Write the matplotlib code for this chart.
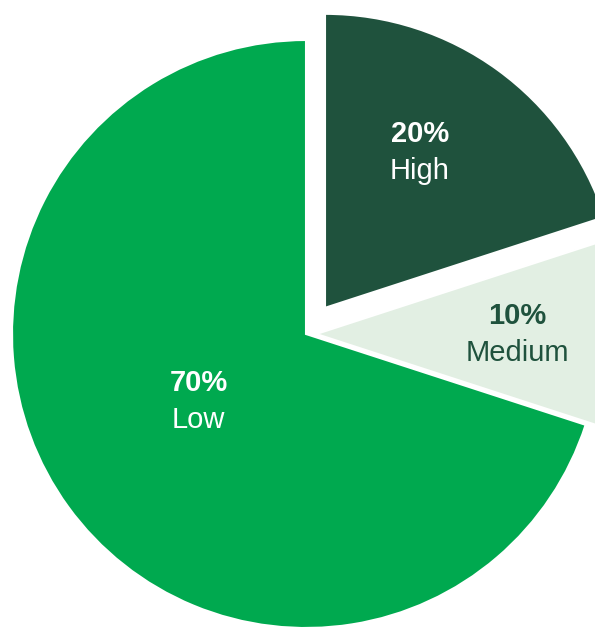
import matplotlib
matplotlib.use('Agg')
import matplotlib.pyplot as plt
import numpy as np

# slices, drawn clockwise from 12 o'clock
labels = ['High', 'Medium', 'Low']
shares = [20, 10, 70]
colors = ['#1F523D', '#E2EFE3', '#00A94F']
text_colors = ['white', '#1F523D', 'white']
explode = [0.11, 0.035, 0]

# label anchor (radius fraction, angle in degrees) for each slice
label_pos = [(0.73, 58), (0.72, 0), (0.43, 212)]

plt.rcParams['font.family'] = ['Liberation Sans', 'DejaVu Sans']

fig = plt.figure(figsize=(5.95, 6.28), dpi=100)
ax = fig.add_axes([0, 0, 1, 1])

wedges, _ = ax.pie(shares, colors=colors, explode=explode, startangle=90,
                   counterclock=False, radius=1.0,
                   wedgeprops=dict(edgecolor='white', linewidth=1.5))

for lab, val, tc, (r, ang) in zip(labels, shares, text_colors, label_pos):
    x = r * np.cos(np.radians(ang))
    y = r * np.sin(np.radians(ang))
    ax.text(x, y + 0.062, f'{val}%', ha='center', va='center',
            fontsize=21, fontweight='bold', color=tc)
    ax.text(x, y - 0.065, lab, ha='center', va='center',
            fontsize=21, color=tc)

# image window: centre at (306, 334) px, radius 294 px
scale = 294
ax.set_xlim(-306 / scale, (595 - 306) / scale)
ax.set_ylim(-(628 - 334) / scale, 334 / scale)
ax.set_aspect('auto')
ax.axis('off')

plt.savefig('out.png', dpi=100)
plt.close()
